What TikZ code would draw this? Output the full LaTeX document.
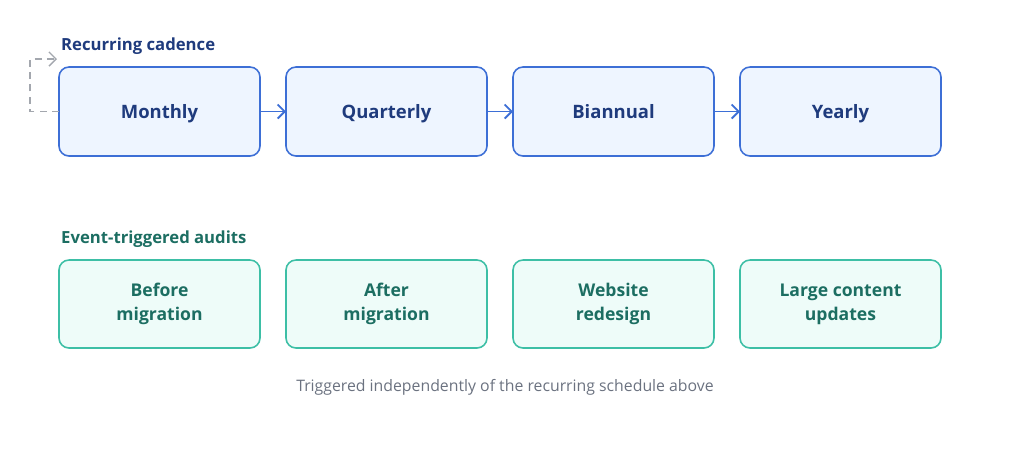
\documentclass[tikz,border=0pt]{standalone}
\usepackage{fontspec}
\setmainfont{Open Sans}
\usetikzlibrary{positioning,arrows.meta}
\definecolor{cadfill}{HTML}{EEF5FF}
\definecolor{caddraw}{HTML}{3D6FD6}
\definecolor{cadtext}{HTML}{1F3B7D}
\definecolor{evtfill}{HTML}{EEFCF9}
\definecolor{evtdraw}{HTML}{3DBFA6}
\definecolor{evttext}{HTML}{1C6E62}
\definecolor{loopgray}{HTML}{A3A7AE}
\definecolor{notegray}{HTML}{6B7280}

\begin{document}
\begin{tikzpicture}[
    cadbox/.style={draw=caddraw, fill=cadfill, line width=0.9pt, rounded corners=0.2cm,
      minimum width=4.02cm, minimum height=1.78cm, text=cadtext, outer sep=0pt,
      text height=1.05em, text depth=0.25em,
      font=\fontsize{10.5}{13}\selectfont\bfseries},
    evtbox/.style={draw=evtdraw, fill=evtfill, line width=0.9pt, rounded corners=0.2cm,
      minimum width=4.02cm, minimum height=1.76cm, text=evttext, align=center, outer sep=0pt,
      font=\fontsize{10}{13.5}\selectfont\bfseries},
    cadarrow/.style={draw=caddraw, line width=1.1pt, -{Straight Barb[length=4pt,width=8pt]}},
    node distance=0.52cm
  ] % 8 boxes
  \useasboundingbox (0,0) rectangle (20.48,-9.2);
  % recurring cadence
  \node[cadbox] (monthly) at (3.19,-2.23) {Monthly};
  \node[cadbox, right=of monthly] (quarterly) {Quarterly};
  \node[cadbox, right=of quarterly] (biannual) {Biannual};
  \node[cadbox, right=of biannual] (yearly) {Yearly};
  \draw[cadarrow] (monthly) -- (quarterly);
  \draw[cadarrow] (quarterly) -- (biannual);
  \draw[cadarrow] (biannual) -- (yearly);
  \node[anchor=west, text=cadtext, font=\fontsize{9.5}{12}\selectfont\bfseries] (cadtitle) at (1.1,-0.92) {Recurring cadence};
  \coordinate (loopend) at ([shift={(-0.04,0.16)}]monthly.north west);
  \draw[loopgray, line width=0.8pt, dash pattern=on 4pt off 3pt, -{Straight Barb[length=4pt,width=8pt]}]
    (monthly.west) -- ++(-0.58,0) |- (loopend);
  % event-triggered audits
  \node[evtbox] (before) at (3.19,-6.08) {Before\\migration};
  \node[evtbox, right=of before] (after) {After\\migration};
  \node[evtbox, right=of after] (website) {Website\\redesign};
  \node[evtbox, right=of website] (large) {Large content\\updates};
  \node[anchor=west, text=evttext, font=\fontsize{9.5}{12}\selectfont\bfseries] (evttitle) at (1.1,-4.78) {Event-triggered audits};
  \node[text=notegray, font=\fontsize{9}{11}\selectfont] (note) at (10.1,-7.74) {Triggered independently of the recurring schedule above};
\end{tikzpicture}
\end{document}
